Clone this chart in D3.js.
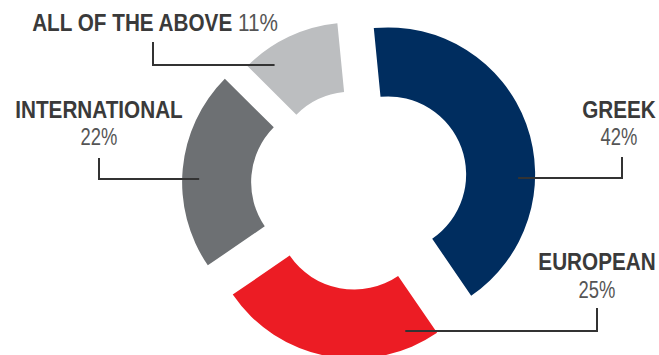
<!DOCTYPE html>
<html>
<head>
<meta charset="utf-8">
<script src="https://cdn.jsdelivr.net/npm/d3@7"></script>
<style>
  body { margin: 0; background: #fff; }
  text { font-family: "Liberation Sans", Arial, sans-serif; }
</style>
</head>
<body>
<script>
// data
var categories = ["GREEK", "EUROPEAN", "INTERNATIONAL", "ALL OF THE ABOVE"];
var shares = [42, 25, 22, 11];
var shareLabels = ["42%", "25%", "22%", "11%"];
var colors = ["#002d5f", "#ec1c24", "#6d7073", "#bcbec0"];

// layout (label placement and how far each slice is pulled out)
var explode = [31, 27, 30, 17];
var labelPos = [
  { x: 619, nameY: 118, pctY: 145, lineTop: 157, lineY: 178, lineX: 622 },
  { x: 597, nameY: 270, pctY: 298, lineTop: 308, lineY: 331, lineX: 597 },
  { x: 99,  nameY: 118, pctY: 145, lineTop: 158, lineY: 179, lineX: 99 },
  { x: 155, nameY: 31,  pctY: null, lineTop: 42, lineY: 65, lineX: 153 }
];

var w = 659, h = 355;
var cx = 359, cy = 185;
var rInner = 78, rOuter = 147, rLead = 130;
var startA = -5.6 * Math.PI / 180;

var svg = d3.select("body").append("svg")
  .attr("width", w)
  .attr("height", h);

var pie = d3.pie()
  .sort(null)
  .startAngle(startA)
  .endAngle(startA + 2 * Math.PI);

var arc = d3.arc()
  .innerRadius(rInner)
  .outerRadius(rOuter);

var arcs = pie(shares);

// centre of each pulled-out slice
function sliceCenter(d, i) {
  var mid = (d.startAngle + d.endAngle) / 2;
  return [cx + explode[i] * Math.sin(mid), cy - explode[i] * Math.cos(mid)];
}

svg.selectAll("path.slice")
  .data(arcs)
  .enter()
  .append("path")
  .attr("class", "slice")
  .attr("d", arc)
  .attr("fill", function(d, i) { return colors[i]; })
  .attr("transform", function(d, i) {
    var c = sliceCenter(d, i);
    return "translate(" + c[0] + "," + c[1] + ")";
  });

//// leader lines
svg.selectAll("path.leader")
  .data(arcs)
  .enter()
  .append("path")
  .attr("class", "leader")
  .attr("fill", "none")
  .attr("stroke", "#333")
  .attr("stroke-width", 2)
  .attr("d", function(d, i) {
    var c = sliceCenter(d, i);
    var L = labelPos[i];
    var dy = L.lineY - c[1];
    var dx = Math.sqrt(rLead * rLead - dy * dy);
    var ax = L.lineX > c[0] ? c[0] + dx : c[0] - dx;
    return "M" + L.lineX + "," + L.lineTop + "V" + L.lineY + "H" + ax;
  });

//// labels
var g = svg.selectAll("g.label")
  .data(arcs)
  .enter()
  .append("g")
  .attr("class", "label");

g.each(function(d, i) {
  var L = labelPos[i];
  var sel = d3.select(this);
  var t = sel.append("text")
    .attr("transform", "translate(" + L.x + "," + L.nameY + ") scale(0.9,1)")
    .attr("text-anchor", "middle")
    .attr("font-size", "23px");
  t.append("tspan")
    .attr("font-weight", "bold")
    .attr("fill", "#3a3a3a")
    .text(categories[i]);
  if (L.pctY === null) {
    t.append("tspan")
      .attr("fill", "#555")
      .text(" " + shareLabels[i]);
  } else {
    sel.append("text")
      .attr("transform", "translate(" + L.x + "," + L.pctY + ") scale(0.8,1)")
      .attr("text-anchor", "middle")
      .attr("font-size", "23px")
      .attr("fill", "#555")
      .text(shareLabels[i]);
  }
});
</script>
</body>
</html>
